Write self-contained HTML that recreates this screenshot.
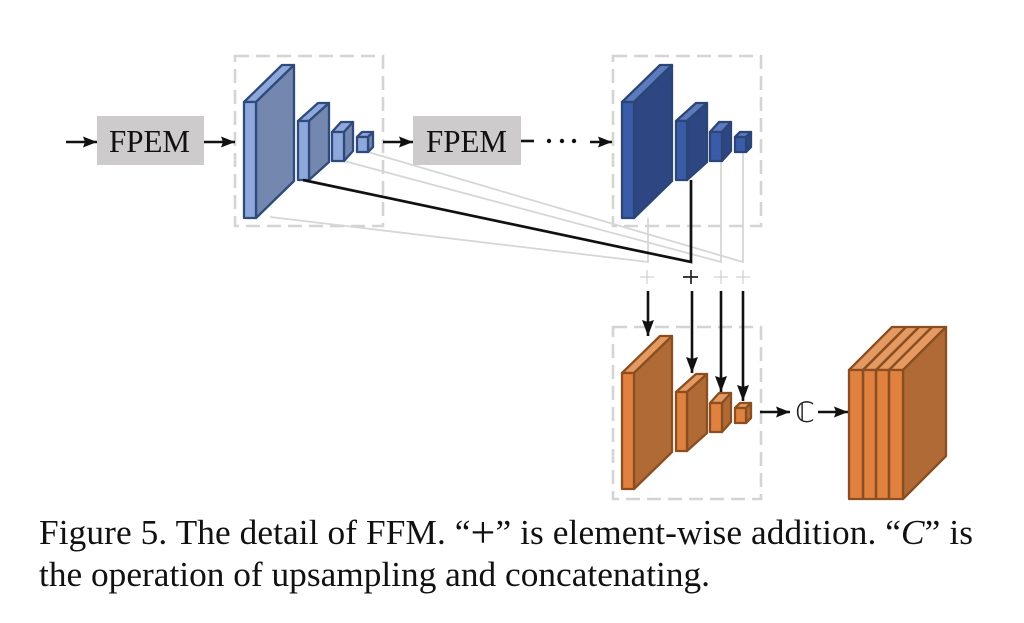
<!DOCTYPE html>
<html>
<head>
<meta charset="utf-8">
<style>
html,body{margin:0;padding:0;background:#fff;width:1024px;height:623px;overflow:hidden}
svg{display:block;filter:blur(0.35px)}
.st polygon{stroke:var(--s);stroke-width:2.3;stroke-linejoin:round}
.f{fill:var(--f)}.t{fill:var(--t)}.d{fill:var(--d)}
.lb{--f:#8fa8dc;--t:#8fa8dc;--d:#7487ae;--s:#2f4a7c}
.db{--f:#3a5ca8;--t:#5b7bbd;--d:#2e4682;--s:#2c4577}
.or{--f:#e08140;--t:#e59a63;--d:#b06a36;--s:#8a4e20}
text{font-family:"Liberation Serif",serif;fill:#111}
.dash{fill:none;stroke:#d4d4d4;stroke-width:2.6;stroke-dasharray:14 7}
.g{fill:none;stroke:#d6d6d6;stroke-width:1.8}
.k{stroke:#111;stroke-width:2.7;fill:none}
</style>
</head>
<body>
<svg width="1024" height="623" viewBox="0 0 1024 623" xmlns="http://www.w3.org/2000/svg">
<defs>
<g id="stack" class="st">
<polygon class="t" points="244,102 256,102 294,65 282,65"/>
<polygon class="d" points="256,102 294,65 294,181 256,218"/>
<polygon class="f" points="244,102 256,102 256,218 244,218"/>
<polygon class="t" points="298,121 309,121 329,103 318,103"/>
<polygon class="d" points="309,121 329,103 329,162 309,180"/>
<polygon class="f" points="298,121 309,121 309,180 298,180"/>
<polygon class="t" points="332,132 344,132 353,122 341,122"/>
<polygon class="d" points="344,132 353,122 353,151 344,161"/>
<polygon class="f" points="332,132 344,132 344,161 332,161"/>
<polygon class="t" points="357,137 368,137 373,132 362,132"/>
<polygon class="d" points="368,137 373,132 373,147 368,152"/>
<polygon class="f" points="357,137 368,137 368,152 357,152"/>
</g>
<marker id="a" markerWidth="15" markerHeight="12" refX="14" refY="5.5" orient="auto" markerUnits="userSpaceOnUse"><path d="M0,0 L14,5.5 L0,11 L2,5.5 Z" fill="#111"/></marker>
<marker id="b" markerWidth="13" markerHeight="17" refX="6" refY="16" orient="0" markerUnits="userSpaceOnUse"><path d="M0,0 L6,16 L12,0 L6,2 Z" fill="#111"/></marker>
</defs>

<rect x="235" y="56" width="148" height="170" class="dash"/>
<rect x="613" y="56" width="148" height="170" class="dash"/>
<rect x="613" y="327" width="148" height="172" class="dash"/>

<polyline class="g" points="270,217 648,262 648,218"/>
<polyline class="g" points="344,161 721,262 721,162"/>
<polyline class="g" points="368,152 743,262 743,152"/>

<use href="#stack" class="lb"/>
<use href="#stack" class="db" transform="translate(378,0)"/>
<use href="#stack" class="or" transform="translate(378,271)"/>

<polyline class="k" points="303,180 691,262 691,180"/>

<rect x="97" y="116" width="107" height="49" fill="#cdcbcb"/>
<rect x="413" y="116" width="108" height="49" fill="#cdcbcb"/>
<text x="109" y="152" font-size="32" textLength="81" lengthAdjust="spacingAndGlyphs">FPEM</text>
<text x="426" y="152" font-size="32" textLength="81" lengthAdjust="spacingAndGlyphs">FPEM</text>

<g class="k" style="stroke-width:2.6">
<line x1="66" y1="142" x2="97" y2="142" marker-end="url(#a)"/>
<line x1="204" y1="142" x2="235" y2="142" marker-end="url(#a)"/>
<line x1="383" y1="142" x2="413" y2="142" marker-end="url(#a)"/>
<line x1="521" y1="141" x2="534" y2="141"/>
<line x1="590" y1="142" x2="612" y2="142" marker-end="url(#a)"/>
<line x1="760" y1="412" x2="790" y2="412" marker-end="url(#a)"/>
<line x1="818" y1="412" x2="848" y2="412" marker-end="url(#a)"/>
<line x1="648" y1="291" x2="648" y2="336" marker-end="url(#b)"/>
<line x1="692" y1="291" x2="692" y2="373" marker-end="url(#b)"/>
<line x1="721" y1="291" x2="721" y2="392" marker-end="url(#b)"/>
<line x1="743" y1="291" x2="743" y2="401" marker-end="url(#b)"/>
</g>
<circle cx="549" cy="141" r="2.2" fill="#111"/>
<circle cx="562" cy="141" r="2.2" fill="#111"/>
<circle cx="574" cy="141" r="2.2" fill="#111"/>

<g stroke="#d8d8d8" stroke-width="1.5">
<path d="M640,277H654M647,270V284M714,277H728M721,270V284M736,277H750M743,270V284"/>
</g>
<path d="M683,277H698M691,270V284" stroke="#222" stroke-width="1.7"/>

<text x="805" y="422" font-size="28" text-anchor="middle" style="font-family:'DejaVu Sans',sans-serif;fill:#222">ℂ</text>

<g class="st or">
<polygon class="t" points="849,370 903,370 946,327 892,327"/>
<polygon class="d" points="903,370 946,327 946,456 903,499"/>
<polygon class="f" points="849,370 903,370 903,499 849,499"/>
</g>
<path d="M863,370V499M876,370V499M889,370V499M863,370L906,327M876,370L919,327M889,370L932,327" stroke="#8a4e20" stroke-width="2.6" fill="none"/>

<text x="39" y="544" font-size="35.3" textLength="934" lengthAdjust="spacing">Figure 5. The detail of FFM. “<tspan font-size="44" dy="3">+</tspan><tspan dy="-3">”</tspan> is element-wise addition. “<tspan font-style="italic">C</tspan>” is</text>
<text x="39" y="586" font-size="35.3" textLength="671" lengthAdjust="spacing">the operation of upsampling and concatenating.</text>
</svg>
</body>
</html>
